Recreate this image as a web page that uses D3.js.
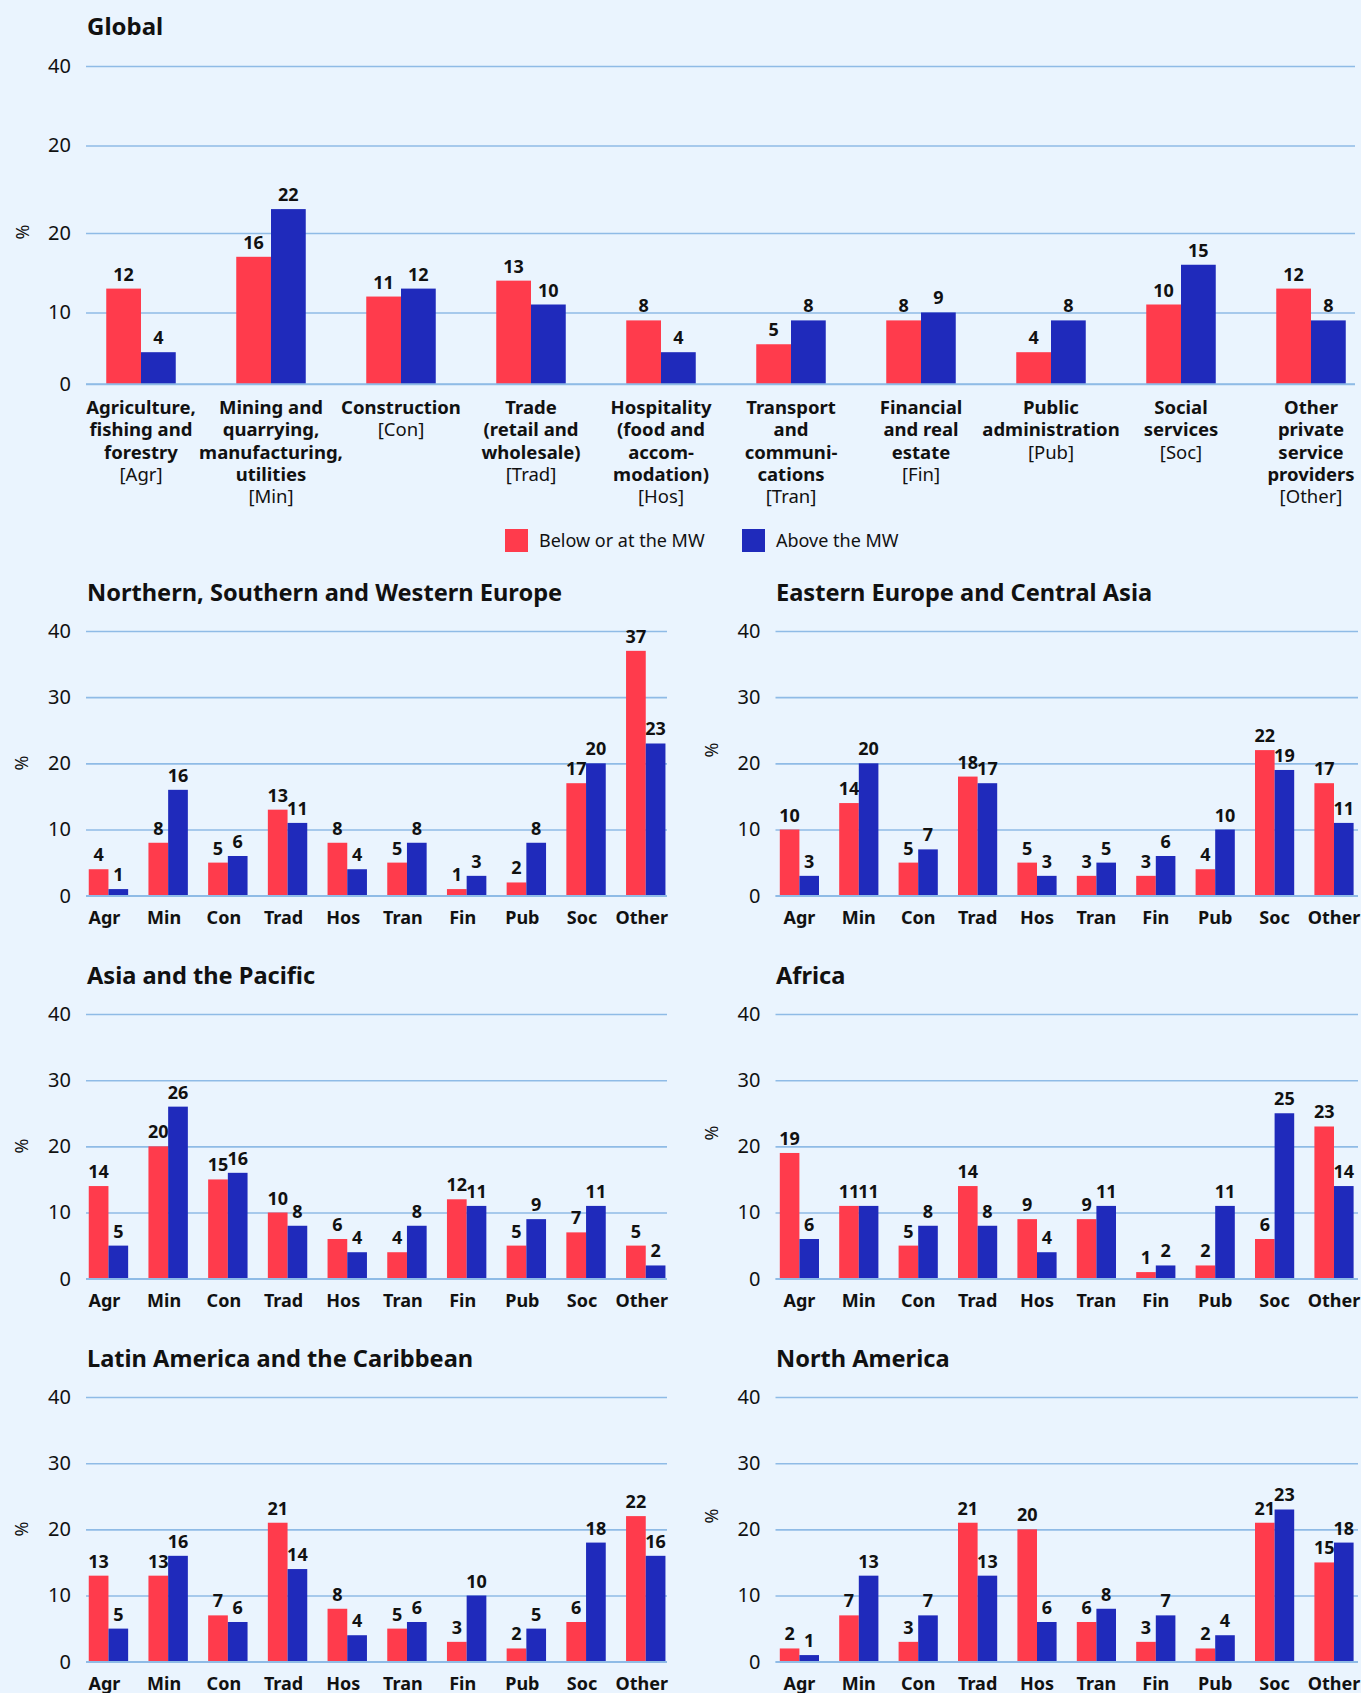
<!DOCTYPE html>
<html>
<head>
<meta charset="utf-8">
<script src="https://cdn.jsdelivr.net/npm/d3@7"></script>
<style>
  body { margin: 0; background: #eaf4fe; }
  svg { display: block; font-family: "Noto Sans", sans-serif; }
</style>
</head>
<body>
<div id="chart"></div>
<script>
// ---- data ----
const cats = ["Agr", "Min", "Con", "Trad", "Hos", "Tran", "Fin", "Pub", "Soc", "Other"];
const series = ["Below or at the MW", "Above the MW"];

const globalLabels = [
  ["Agriculture,", "fishing and", "forestry"],
  ["Mining and", "quarrying,", "manufacturing,", "utilities"],
  ["Construction"],
  ["Trade", "(retail and", "wholesale)"],
  ["Hospitality", "(food and", "accom-", "modation)"],
  ["Transport", "and", "communi-", "cations"],
  ["Financial", "and real", "estate"],
  ["Public", "administration"],
  ["Social", "services"],
  ["Other", "private", "service", "providers"]
];

// the Global axis in the original has these odd tick marks
const globalTicks = [0, 9, 19, 30, 40];
const globalTickLabels = ["0", "10", "20", "20", "40"];
const smallTicks = [0, 10, 20, 30, 40];

const globalBelow = [12, 16, 11, 13, 8, 5, 8, 4, 10, 12];
const globalAbove = [4, 22, 12, 10, 4, 8, 9, 8, 15, 8];

const nsweBelow = [4, 8, 5, 13, 8, 5, 1, 2, 17, 37];
const nsweAbove = [1, 16, 6, 11, 4, 8, 3, 8, 20, 23];

const eecaBelow = [10, 14, 5, 18, 5, 3, 3, 4, 22, 17];
const eecaAbove = [3, 20, 7, 17, 3, 5, 6, 10, 19, 11];

const asiaBelow = [14, 20, 15, 10, 6, 4, 12, 5, 7, 5];
const asiaAbove = [5, 26, 16, 8, 4, 8, 11, 9, 11, 2];

const africaBelow = [19, 11, 5, 14, 9, 9, 1, 2, 6, 23];
const africaAbove = [6, 11, 8, 8, 4, 11, 2, 11, 25, 14];

const lacBelow = [13, 13, 7, 21, 8, 5, 3, 2, 6, 22];
const lacAbove = [5, 16, 6, 14, 4, 6, 10, 5, 18, 16];

const naBelow = [2, 7, 3, 21, 20, 6, 3, 2, 21, 15];
const naAbove = [1, 13, 7, 13, 6, 8, 7, 4, 23, 18];

// ---- style ----
const red = "#ff3b4c";
const blue = "#1f2abb";
const gridColor = "#8fbbe6";
const textColor = "#111";
const color = d3.scaleOrdinal().domain(series).range([red, blue]);

const width = 1361, height = 1693;

const svg = d3.select("#chart").append("svg")
    .attr("width", width)
    .attr("height", height);

svg.append("rect").attr("width", width).attr("height", height).attr("fill", "#eaf4fe");

function panel(cfg) {
  const g = svg.append("g");

  const y = d3.scaleLinear().domain([0, 40]).range([cfg.zeroY, cfg.topY]);

  const pad = 1 - cfg.groupWidth / cfg.step;
  const x = d3.scaleBand()
      .domain(cats)
      .range([cfg.bandStart, cfg.bandStart + cfg.step * cats.length])
      .paddingInner(pad)
      .paddingOuter(pad / 2);

  const x1 = d3.scaleBand().domain(series).range([0, x.bandwidth()]);

  // title
  g.append("text")
      .attr("x", cfg.titleX)
      .attr("y", cfg.titleY)
      .attr("font-size", cfg.titleSize)
      .attr("font-weight", "bold")
      .attr("fill", textColor)
      .text(cfg.title);

  // gridlines + tick labels
  const yAxis = d3.axisLeft(y)
      .tickValues(cfg.ticks)
      .tickFormat((d, i) => cfg.tickLabels ? cfg.tickLabels[i] : d)
      .tickSize(-(cfg.gridEnd - cfg.gridStart))
      .tickPadding(15);

  const ga = g.append("g")
      .attr("transform", `translate(${cfg.gridStart},0)`)
      .call(yAxis);
  ga.select(".domain").remove();
  ga.selectAll(".tick line").attr("stroke", gridColor).attr("stroke-width", 1.6);
  ga.selectAll(".tick text")
      .attr("font-size", 20)
      .attr("font-family", "Noto Sans, sans-serif")
      .attr("fill", textColor);

  // y label
  g.append("text")
      .attr("transform", `translate(${cfg.pctX},${cfg.pctY}) rotate(-90)`)
      .attr("text-anchor", "middle")
      .attr("dominant-baseline", "central")
      .attr("font-size", 18)
      .attr("fill", textColor)
      .text("%");

  const rows = cats.map((c, i) => ({cat: c, values: [cfg.below[i], cfg.above[i]]}));

  const groups = g.selectAll(".grp")
    .data(rows)
    .join("g")
      .attr("class", "grp")
      .attr("transform", d => `translate(${x(d.cat)},0)`);

  groups.selectAll("rect")
    .data(d => series.map((s, j) => ({s, v: d.values[j]})))
    .join("rect")
      .attr("x", d => x1(d.s))
      .attr("y", d => y(d.v))
      .attr("width", x1.bandwidth())
      .attr("height", d => y(0) - y(d.v))
      .attr("fill", d => color(d.s));

  groups.selectAll("text.val")
    .data(d => series.map((s, j) => ({s, v: d.values[j]})))
    .join("text")
      .attr("class", "val")
      .attr("x", d => x1(d.s) + x1.bandwidth() / 2)
      .attr("y", d => y(d.v) - 8)
      .attr("text-anchor", "middle")
      .attr("font-size", 18)
      .attr("font-weight", "bold")
      .attr("fill", textColor)
      .text(d => d.v);

  // zero line sits on top of the bars
  g.append("line")
      .attr("x1", cfg.gridStart).attr("x2", cfg.gridEnd)
      .attr("y1", y(0)).attr("y2", y(0))
      .attr("stroke", gridColor)
      .attr("stroke-width", 1.6);

  return {g, x, y};
}

// ---- Global ----
const glob = panel({
  title: "Global", titleX: 87, titleY: 35, titleSize: 24,
  zeroY: 384, topY: 66,
  bandStart: 76, step: 130, groupWidth: 69.5,
  gridStart: 86, gridEnd: 1355,
  ticks: globalTicks, tickLabels: globalTickLabels,
  pctX: 22, pctY: 232,
  below: globalBelow, above: globalAbove
});

// long category labels under the global chart
const labelG = glob.g.selectAll(".catlab")
  .data(cats)
  .join("text")
    .attr("class", "catlab")
    .attr("text-anchor", "middle")
    .attr("font-size", 18.5)
    .attr("fill", textColor)
    .attr("transform", d => `translate(${glob.x(d) + glob.x.bandwidth() / 2},0)`);

labelG.each(function(d, i) {
  const t = d3.select(this);
  const lines = globalLabels[i];
  lines.forEach((ln, k) => {
    t.append("tspan").attr("x", 0).attr("y", 414 + k * 22.3)
      .attr("font-weight", "bold").text(ln);
  });
  t.append("tspan").attr("x", 0).attr("y", 414 + lines.length * 22.3)
    .text(`[${d}]`);
});

// legend
const legend = svg.append("g");
const legendX = [505, 742];
series.forEach((s, i) => {
  legend.append("rect")
      .attr("x", legendX[i]).attr("y", 529)
      .attr("width", 23).attr("height", 23)
      .attr("fill", color(s));
  legend.append("text")
      .attr("x", legendX[i] + 34).attr("y", 547)
      .attr("font-size", 18)
      .attr("fill", textColor)
      .text(s);
});

// ---- regional panels ----
const regions = [
  {title: "Northern, Southern and Western Europe", below: nsweBelow, above: nsweAbove},
  {title: "Eastern Europe and Central Asia", below: eecaBelow, above: eecaAbove},
  {title: "Asia and the Pacific", below: asiaBelow, above: asiaAbove},
  {title: "Africa", below: africaBelow, above: africaAbove},
  {title: "Latin America and the Caribbean", below: lacBelow, above: lacAbove},
  {title: "North America", below: naBelow, above: naAbove}
];

const rowStep = 383;
const cols = [
  {titleX: 87, gridStart: 86, gridEnd: 667, bandStart: 78.6, step: 59.7, groupWidth: 39.4, pctX: 21, pctY: 763, labShift: -4},
  {titleX: 776, gridStart: 775.5, gridEnd: 1358, bandStart: 769.7, step: 59.4, groupWidth: 39.2, pctX: 711, pctY: 750, labShift: 0}
];

regions.forEach((r, i) => {
  const c = cols[i % 2];
  const off = Math.floor(i / 2) * rowStep;
  const p = panel({
    title: r.title, titleX: c.titleX, titleY: 600.7 + off, titleSize: 23.6,
    zeroY: 895.7 + off, topY: 631 + off,
    bandStart: c.bandStart, step: c.step, groupWidth: c.groupWidth,
    gridStart: c.gridStart, gridEnd: c.gridEnd,
    ticks: smallTicks,
    pctX: c.pctX, pctY: c.pctY + off,
    below: r.below, above: r.above
  });
  p.g.selectAll(".catlab")
    .data(cats)
    .join("text")
      .attr("class", "catlab")
      .attr("x", d => p.x(d) + p.x.bandwidth() / 2 + c.labShift)
      .attr("y", 895.7 + off + 28)
      .attr("text-anchor", "middle")
      .attr("font-size", 18)
      .attr("font-weight", "bold")
      .attr("fill", textColor)
      .text(d => d);
});
</script>
</body>
</html>
